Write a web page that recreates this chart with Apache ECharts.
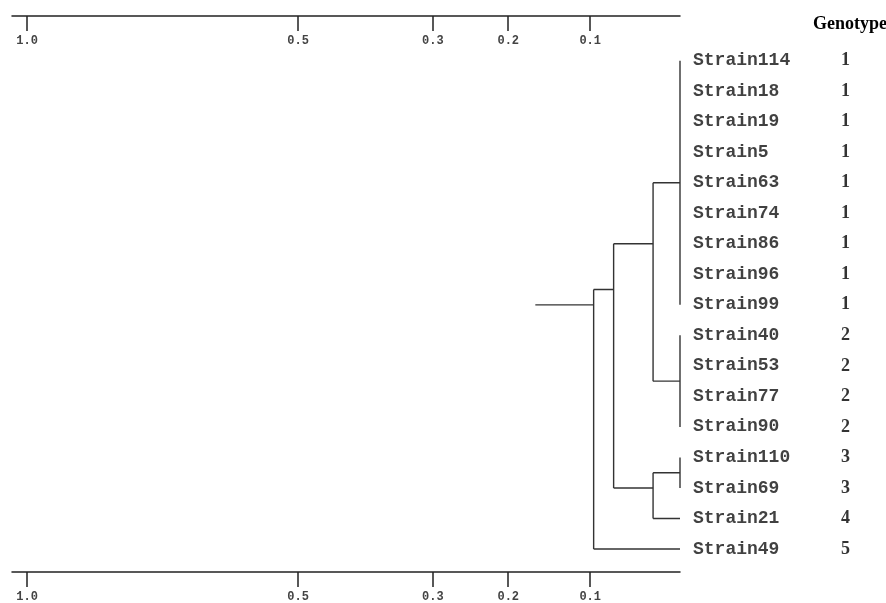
<!DOCTYPE html>
<html>
<head>
<meta charset="utf-8">
<script src="https://cdn.jsdelivr.net/npm/echarts@6/dist/echarts.min.js"></script>
<style>html,body{margin:0;padding:0;background:#fff}#c{width:886px;height:603px}</style>
</head>
<body>
<div id="c"></div>
<script>
// ---- data ----
const strains = ['Strain114','Strain18','Strain19','Strain5','Strain63','Strain74','Strain86','Strain96','Strain99',
  'Strain40','Strain53','Strain77','Strain90','Strain110','Strain69','Strain21','Strain49'];
const genotypes = ['1','1','1','1','1','1','1','1','1','2','2','2','2','3','3','4','5'];
const tickValues = [1.0, 0.5, 0.3, 0.2, 0.1];
const tickLabels = ['1.0', '0.5', '0.3', '0.2', '0.1'];
// cluster nodes: children are leaf indices (numbers) or node ids (strings); height = distance
const nodeIds = ['A','B','C','D','E','F','G'];
const nodeChildren = [
  [0,1,2,3,4,5,6,7,8],
  [9,10,11,12],
  ['A','B'],
  [13,14],
  ['D',15],
  ['C','E'],
  ['F',16]
];
const nodeHeights = [0, 0, 0.029, 0, 0.029, 0.073, 0.096];
const rootStem = 0.166;

// ---- scale: axis position is ln(1 + distance) ----
const tf = d => Math.log(1 + d);

const nodes = {};
function leafList(c) {
  return typeof c === 'number' ? [c] : nodes[c].leaves;
}
nodeIds.forEach((id, i) => {
  const leaves = [].concat(...nodeChildren[i].map(leafList));
  const y = leaves.reduce((a, b) => a + b, 0) / leaves.length;
  nodes[id] = { leaves, y, h: nodeHeights[i], children: nodeChildren[i] };
});
function childPos(c) {
  return typeof c === 'number' ? { y: c, h: 0 } : { y: nodes[c].y, h: nodes[c].h };
}
const segs = [];
nodeIds.forEach(id => {
  const n = nodes[id];
  const cs = n.children.map(childPos);
  const ys = cs.map(c => c.y);
  segs.push({ coords: [[tf(n.h), Math.min(...ys)], [tf(n.h), Math.max(...ys)]] });
  cs.forEach(c => {
    if (c.h !== n.h) segs.push({ coords: [[tf(n.h), c.y], [tf(c.h), c.y]] });
  });
});
const root = nodes['G'];
segs.push({ coords: [[tf(rootStem), root.y], [tf(root.h), root.y]] });

const leafPts = strains.map((s, i) => [0, i]);

const axisCommon = {
  type: 'value',
  inverse: true,
  min: 0,
  max: 0.7091,
  splitLine: { show: false },
  axisLine: { show: true, onZero: false, lineStyle: { color: '#222', width: 1.5 } },
  axisTick: { show: true, length: 15, lineStyle: { color: '#222', width: 1.5 }, customValues: tickValues.map(tf) },
  axisLabel: {
    show: true,
    customValues: tickValues.map(tf),
    formatter: v => {
      let best = 0;
      tickValues.forEach((t, i) => { if (Math.abs(tf(t) - v) < Math.abs(tf(tickValues[best]) - v)) best = i; });
      return tickLabels[best];
    },
    fontFamily: 'Liberation Mono',
    fontWeight: 'bold',
    fontSize: 12,
    color: '#444'
  }
};

const chart = echarts.init(document.getElementById('c'), null, { renderer: 'canvas' });
chart.setOption({
  animation: false,
  backgroundColor: '#fff',
  title: {
    text: 'Genotype',
    left: 808,
    top: 10,
    textStyle: { fontFamily: 'Liberation Serif', fontWeight: 'bold', fontSize: 18, color: '#000' }
  },
  grid: { left: 12, right: 206, top: 16, bottom: 30 },
  xAxis: [
    Object.assign({}, axisCommon, {
      position: 'top',
      axisTick: Object.assign({}, axisCommon.axisTick, { inside: true }),
      axisLabel: Object.assign({}, axisCommon.axisLabel, { inside: true, margin: 19 })
    }),
    Object.assign({}, axisCommon, {
      position: 'bottom',
      axisLabel: Object.assign({}, axisCommon.axisLabel, { margin: 19 })
    })
  ],
  yAxis: {
    type: 'value',
    inverse: true,
    min: -1.462,
    max: 16.752,
    show: false
  },
  series: [
    {
      type: 'lines',
      coordinateSystem: 'cartesian2d',
      polyline: true,
      silent: true,
      lineStyle: { color: '#333', width: 1.4, opacity: 1 },
      data: segs
    },
    {
      type: 'scatter',
      symbolSize: 0,
      silent: true,
      data: leafPts,
      label: {
        show: true,
        position: 'right',
        distance: 13,
        formatter: p => strains[p.dataIndex],
        fontFamily: 'Liberation Mono',
        fontWeight: 'bold',
        fontSize: 18,
        color: '#111'
      }
    },
    {
      type: 'scatter',
      symbolSize: 0,
      silent: true,
      data: leafPts,
      label: {
        show: true,
        position: 'right',
        distance: 161,
        formatter: p => genotypes[p.dataIndex],
        fontFamily: 'Liberation Serif',
        fontWeight: 'bold',
        fontSize: 18,
        color: '#000'
      }
    }
  ]
});
</script>
</body>
</html>
